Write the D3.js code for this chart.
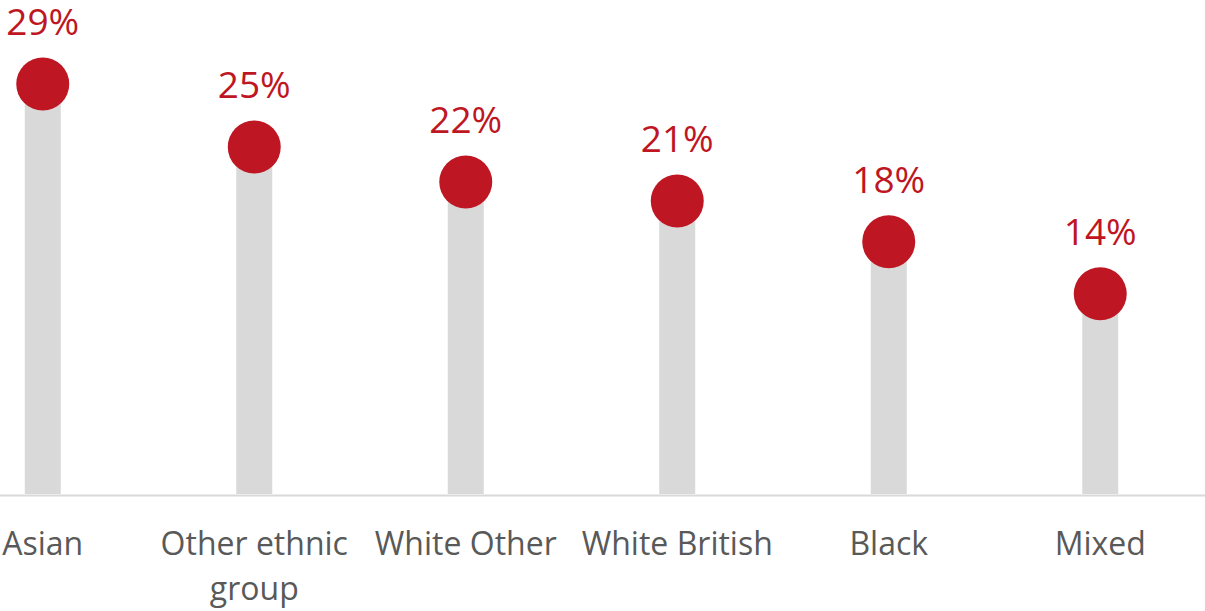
<!DOCTYPE html>
<html>
<head>
<meta charset="utf-8">
<script src="https://cdn.jsdelivr.net/npm/d3@7"></script>
<style>
  body { margin: 0; background: #fff; }
  svg { display: block; }
</style>
</head>
<body>
<svg></svg>
<script>
var categories = ["Asian", "Other ethnic group", "White Other", "White British", "Black", "Mixed"];
var values = [29.15, 24.68, 22.2, 20.85, 17.96, 14.27];

var width = 1205;
var height = 611;
var baseY = 495;

var svg = d3.select("svg")
  .attr("width", width)
  .attr("height", height);

// band scale runs past the left edge, like the cropped original
var x = d3.scaleBand()
  .domain(categories)
  .range([-63, 1206]);

var y = d3.scaleLinear()
  .domain([0, 30])
  .range([baseY, baseY - 30 * 14.1]);

var xAxis = d3.axisBottom(x).tickSize(0).tickPadding(0);

var axisG = svg.append("g")
  .attr("class", "x-axis")
  .attr("transform", "translate(0," + baseY + ")")
  .call(xAxis);

axisG.select(".domain")
  .attr("stroke", "#d9d9d9")
  .attr("stroke-width", 2);

axisG.selectAll("text")
  .attr("y", 60)
  .attr("dy", 0)
  .attr("fill", "#595959")
  .style("font-family", "'Open Sans', sans-serif")
  .style("font-size", "32px")
  .call(wrap, 205);

function wrap(texts, maxW){
  texts.each(function(){
    var text = d3.select(this);
    var words = text.text().split(/\s+/);
    var yy = text.attr("y");
    text.text(null);
    var line = [];
    var lineNo = 0;
    var tspan = text.append("tspan").attr("x", 0).attr("y", yy);
    words.forEach(function(w){
      line.push(w);
      tspan.text(line.join(" "));
      if (tspan.node().getComputedTextLength() > maxW && line.length > 1) {
        line.pop();
        tspan.text(line.join(" "));
        line = [w];
        lineNo++;
        tspan = text.append("tspan").attr("x", 0).attr("y", yy)
          .attr("dy", lineNo * 44.5).text(w);
      }
    });
  });
}

var cx = function(d){ return x(d) + x.bandwidth() / 2; };

var g = svg.append("g");

g.selectAll(".stem")
  .data(categories)
  .enter().append("rect")
  .attr("class", "stem")
  .attr("x", function(d){ return cx(d) - 18; })
  .attr("width", 36)
  .attr("y", function(d, i){ return y(values[i]); })
  .attr("height", function(d, i){ return y(0) - y(values[i]) - 1; })
  .attr("fill", "#d9d9d9");

g.selectAll(".dot")
  .data(categories)
  .enter().append("circle")
  .attr("class", "dot")
  .attr("cx", cx)
  .attr("cy", function(d, i){ return y(values[i]); })
  .attr("r", 26.5)
  .attr("fill", "#be1622");

g.selectAll(".val")
  .data(categories)
  .enter().append("text")
  .attr("class", "val")
  .attr("x", cx)
  .attr("y", function(d, i){ return y(values[i]) - 49; })
  .attr("text-anchor", "middle")
  .attr("fill", "#be1622")
  .style("font-family", "'Open Sans', sans-serif")
  .style("font-size", "37px")
  .text(function(d, i){ return Math.round(values[i]) + "%"; });
</script>
</body>
</html>
